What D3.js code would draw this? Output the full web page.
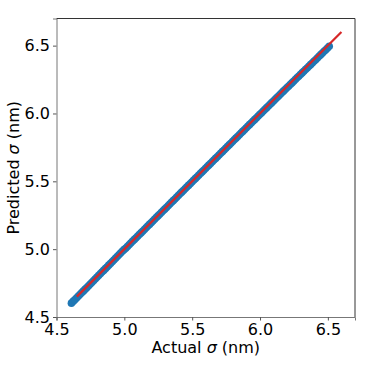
<!DOCTYPE html>
<html><head><meta charset="utf-8">
<script src="https://cdn.jsdelivr.net/npm/d3@7"></script>
<style>html,body{margin:0;padding:0;background:#fff;}</style>
</head><body>
<svg id="c" width="374" height="374"></svg>
<script>
const actual = [4.6100,4.6225,4.6350,4.6475,4.6600,4.6725,4.6850,4.6975,4.7100,4.7225,4.7350,4.7475,4.7600,4.7725,4.7850,4.7975,4.8100,4.8225,4.8350,4.8475,4.8600,4.8725,4.8850,4.8975,4.9100,4.9225,4.9350,4.9475,4.9600,4.9725,4.9850,4.9975,5.0100,5.0225,5.0350,5.0475,5.0600,5.0725,5.0850,5.0975,5.1100,5.1225,5.1350,5.1475,5.1600,5.1725,5.1850,5.1975,5.2100,5.2225,5.2350,5.2475,5.2600,5.2725,5.2850,5.2975,5.3100,5.3225,5.3350,5.3475,5.3600,5.3725,5.3850,5.3975,5.4100,5.4225,5.4350,5.4475,5.4600,5.4725,5.4850,5.4975,5.5100,5.5225,5.5350,5.5475,5.5600,5.5725,5.5850,5.5975,5.6100,5.6225,5.6350,5.6475,5.6600,5.6725,5.6850,5.6975,5.7100,5.7225,5.7350,5.7475,5.7600,5.7725,5.7850,5.7975,5.8100,5.8225,5.8350,5.8475,5.8600,5.8725,5.8850,5.8975,5.9100,5.9225,5.9350,5.9475,5.9600,5.9725,5.9850,5.9975,6.0100,6.0225,6.0350,6.0475,6.0600,6.0725,6.0850,6.0975,6.1100,6.1225,6.1350,6.1475,6.1600,6.1725,6.1850,6.1975,6.2100,6.2225,6.2350,6.2475,6.2600,6.2725,6.2850,6.2975,6.3100,6.3225,6.3350,6.3475,6.3600,6.3725,6.3850,6.3975,6.4100,6.4225,6.4350,6.4475,6.4600,6.4725,6.4850,6.4975,6.5100];
const predicted = [4.6020,4.6150,4.6275,4.6400,4.6530,4.6655,4.6780,4.6905,4.7035,4.7160,4.7290,4.7415,4.7545,4.7670,4.7800,4.7925,4.8055,4.8180,4.8310,4.8435,4.8565,4.8690,4.8820,4.8945,4.9075,4.9200,4.9330,4.9455,4.9585,4.9710,4.9840,4.9965,5.0070,5.0195,5.0320,5.0445,5.0575,5.0700,5.0825,5.0950,5.1075,5.1200,5.1325,5.1450,5.1575,5.1700,5.1825,5.1950,5.2075,5.2200,5.2325,5.2450,5.2575,5.2700,5.2825,5.2950,5.3075,5.3200,5.3325,5.3450,5.3575,5.3700,5.3825,5.3950,5.4075,5.4200,5.4325,5.4450,5.4575,5.4700,5.4825,5.4950,5.5070,5.5195,5.5320,5.5445,5.5570,5.5695,5.5820,5.5945,5.6065,5.6190,5.6315,5.6440,5.6565,5.6690,5.6815,5.6940,5.7060,5.7185,5.7310,5.7435,5.7560,5.7685,5.7810,5.7935,5.8055,5.8180,5.8305,5.8430,5.8555,5.8680,5.8805,5.8930,5.9050,5.9175,5.9300,5.9425,5.9545,5.9670,5.9795,5.9920,6.0040,6.0165,6.0290,6.0410,6.0535,6.0660,6.0780,6.0905,6.1030,6.1150,6.1275,6.1400,6.1520,6.1645,6.1770,6.1890,6.2010,6.2135,6.2255,6.2380,6.2500,6.2625,6.2745,6.2870,6.2990,6.3110,6.3235,6.3355,6.3480,6.3600,6.3720,6.3845,6.3965,6.4090,6.4210,6.4335,6.4455,6.4580,6.4700,6.4830,6.4960,6.5100,6.5230];
const refLine = [4.65, 6.6];
const xTicks = [4.5, 5.0, 5.5, 6.0, 6.5];
const yTicks = [4.5, 5.0, 5.5, 6.0, 6.5];
const xDomain = [4.5, 6.7];
const yDomain = [4.5, 6.7];

const svg = d3.select('#c');
const L = 56.5, R = 355, T = 18.5, B = 317;
const x = d3.scaleLinear().domain(xDomain).range([L, R]);
const y = d3.scaleLinear().domain(yDomain).range([B, T]);
const font = 'DejaVu Sans, sans-serif';

const g = svg.append('g');
const pts = d3.zip(actual, predicted);
g.selectAll('circle').data(pts).enter().append('circle')
  .attr('cx', d => x(d[0])).attr('cy', d => y(d[1])).attr('r', 3.8)
  .attr('fill', '#1f77b4');

g.append('line')
  .attr('x1', x(refLine[0])).attr('y1', y(refLine[0]))
  .attr('x2', x(refLine[1])).attr('y2', y(refLine[1]))
  .attr('stroke', '#d62728').attr('stroke-width', 2.2);

// spines
svg.append('line').attr('x1', L).attr('x2', R).attr('y1', T).attr('y2', T).attr('stroke', '#333').attr('stroke-width', 1);
svg.append('line').attr('x1', R).attr('x2', R).attr('y1', T).attr('y2', B).attr('stroke', '#333').attr('stroke-width', 1);

const xa = svg.append('g').attr('transform', `translate(0,${B})`)
  .call(d3.axisBottom(x).tickValues(xTicks).tickFormat(d3.format('.1f')).tickSize(3.5).tickPadding(3));
const ya = svg.append('g').attr('transform', `translate(${L},0)`)
  .call(d3.axisLeft(y).tickValues(yTicks).tickFormat(d3.format('.1f')).tickSize(3.5).tickPadding(3));
[xa, ya].forEach(a => {
  a.selectAll('.domain').attr('stroke', '#777').attr('stroke-width', 1);
  a.selectAll('.tick line').attr('stroke', '#555');
  a.selectAll('text').attr('font-family', font).attr('font-size', 16).attr('fill', '#000');
});

const xl = svg.append('text').attr('x', (L + R) / 2).attr('y', 353)
  .attr('text-anchor', 'middle').attr('font-family', font).attr('font-size', 16);
xl.append('tspan').text('Actual ');
xl.append('tspan').attr('font-style', 'italic').text('σ');
xl.append('tspan').text(' (nm)');

const yl = svg.append('text').attr('transform', `translate(19,${(T + B) / 2}) rotate(-90)`)
  .attr('text-anchor', 'middle').attr('font-family', font).attr('font-size', 16);
yl.append('tspan').text('Predicted ');
yl.append('tspan').attr('font-style', 'italic').text('σ');
yl.append('tspan').text(' (nm)');
</script>
</body></html>
